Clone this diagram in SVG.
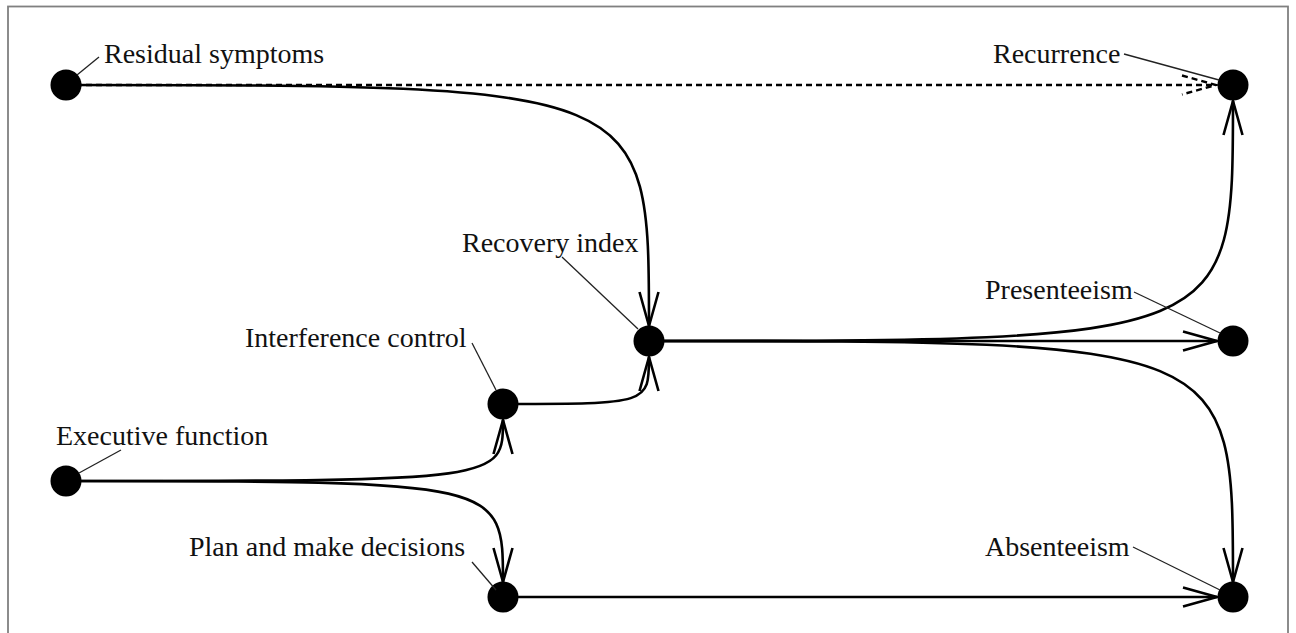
<svg xmlns="http://www.w3.org/2000/svg" width="1296" height="633" viewBox="0 0 1296 633">
  <style>
    .node circle { fill: #000; }
    .label { font-family: "Liberation Serif", "Times New Roman", serif; font-size: 28px; fill: #111; }
    .leader { stroke: #222; stroke-width: 1.3; fill: none; }
    .edge { stroke: #000; stroke-width: 2.6; fill: none; }
    .dashed { stroke-dasharray: 6 4; }
  </style>
  <defs>
    <marker id="arrow" markerUnits="userSpaceOnUse" viewBox="-40 -14 46 28" markerWidth="46" markerHeight="28" refX="0" refY="0" orient="auto" overflow="visible">
      <path d="M-34,-9.5 L0,0 L-34,9.5" fill="none" stroke="#000" stroke-width="2.6"/>
    </marker>
    <marker id="arrow-dashed" markerUnits="userSpaceOnUse" viewBox="-40 -14 46 28" markerWidth="46" markerHeight="28" refX="0" refY="0" orient="auto" overflow="visible">
      <path d="M-34,-9.5 L0,0 L-34,9.5" fill="none" stroke="#000" stroke-width="2.4" stroke-dasharray="6 4"/>
    </marker>
  </defs>

  <!-- frame -->
  <rect x="8" y="6.5" width="1280" height="700" fill="#fff" stroke="#808080" stroke-width="1.8"/>

  <!-- connectors -->
  <g id="connectors">
    <path class="edge dashed" d="M66,85 L1216,85" marker-end="url(#arrow-dashed)"/>
    <path class="edge" d="M66,85 C649,85 649,85 649,326" marker-end="url(#arrow)"/>
    <path class="edge" d="M649,341 C1233,341 1233,341 1233,101" marker-end="url(#arrow)"/>
    <path class="edge" d="M649,341 L1217,341" marker-end="url(#arrow)"/>
    <path class="edge" d="M649,341 C1233,341 1233,341 1233,582" marker-end="url(#arrow)"/>
    <path class="edge" d="M66,481 C503,481 503,481 503,420" marker-end="url(#arrow)"/>
    <path class="edge" d="M66,481 C503,481 503,481 503,582" marker-end="url(#arrow)"/>
    <path class="edge" d="M503,404 C649,404 649,404 649,357" marker-end="url(#arrow)"/>
    <path class="edge" d="M503,597 L1217,597" marker-end="url(#arrow)"/>
  </g>

  <!-- nodes -->
  <g id="residual-symptoms" class="node">
    <circle cx="66" cy="85" r="15.5"/>
    <line class="leader" x1="77" y1="75" x2="99" y2="57"/>
    <text class="label" x="104" y="63">Residual symptoms</text>
  </g>
  <g id="recurrence" class="node">
    <circle cx="1233" cy="85" r="15.5"/>
    <line class="leader" x1="1124" y1="54" x2="1219" y2="80"/>
    <text class="label" x="993" y="63">Recurrence</text>
  </g>
  <g id="recovery-index" class="node">
    <circle cx="649" cy="341" r="15.5"/>
    <line class="leader" x1="562" y1="257" x2="638" y2="329"/>
    <text class="label" x="462" y="252">Recovery index</text>
  </g>
  <g id="interference-control" class="node">
    <circle cx="503" cy="404" r="15.5"/>
    <line class="leader" x1="472" y1="343" x2="496" y2="390"/>
    <text class="label" x="245" y="347">Interference control</text>
  </g>
  <g id="executive-function" class="node">
    <circle cx="66" cy="481" r="15.5"/>
    <line class="leader" x1="121" y1="450" x2="79" y2="473"/>
    <text class="label" x="56" y="445">Executive function</text>
  </g>
  <g id="plan-and-make-decisions" class="node">
    <circle cx="503" cy="597" r="15.5"/>
    <line class="leader" x1="472" y1="562" x2="496" y2="590"/>
    <text class="label" x="189" y="556">Plan and make decisions</text>
  </g>
  <g id="presenteeism" class="node">
    <circle cx="1233" cy="341" r="15.5"/>
    <line class="leader" x1="1134" y1="292" x2="1220" y2="333"/>
    <text class="label" x="985" y="299">Presenteeism</text>
  </g>
  <g id="absenteeism" class="node">
    <circle cx="1233" cy="597" r="15.5"/>
    <line class="leader" x1="1133" y1="547" x2="1220" y2="590"/>
    <text class="label" x="985" y="556">Absenteeism</text>
  </g>
</svg>
